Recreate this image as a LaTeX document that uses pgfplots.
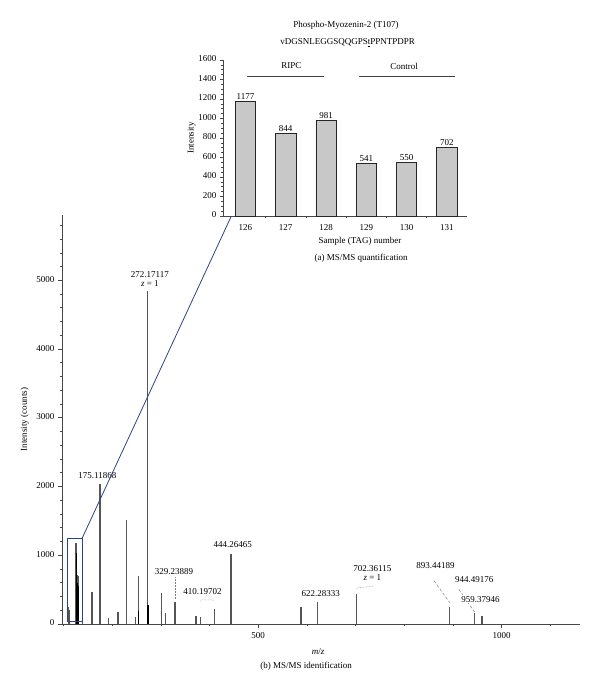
\documentclass[border=0pt]{standalone}
\usepackage{fontspec}
\setmainfont{Liberation Serif}
\usepackage{pgfplots}
\pgfplotsset{compat=1.18}

\definecolor{zoomblue}{RGB}{44,68,138}
\definecolor{peakgray}{RGB}{85,85,85}
\definecolor{barfill}{RGB}{200,200,200}
\definecolor{axisgray}{RGB}{70,70,70}

\pgfplotsset{
  /pgf/number format/1000 sep={},
  /pgf/number format/assume math mode=true,
}
\newcommand{\lab}{\fontsize{9}{10}\selectfont}

\begin{document}
\begin{tikzpicture}
\path[use as bounding box] (0pt,0pt) rectangle (600pt,693pt);

% (b) spectrum
\begin{axis}[
  at={(62pt,69pt)}, anchor=south west, scale only axis,
  width=518pt, height=409pt,
  xmin=97, xmax=1161, ymin=0, ymax=5950,
  axis x line*=bottom, axis y line*=left,
  axis line style={-, draw=axisgray, line width=0.8pt},
  tick align=outside,
  tick style={draw=axisgray, line width=0.6pt},
  major tick length=4pt, minor tick length=2.5pt,
  xtick={500,1000}, minor xtick={100,200,...,1100},
  ytick={0,1000,...,5000}, minor ytick={200,400,...,5800},
  tick label style={font=\lab},
  typeset ticklabels with strut,
  clip=false,
  ylabel={Intensity (counts)},
  every axis y label/.style={at={(axis description cs:-0.072,0.5)}, rotate=90, anchor=center, font=\lab},
]
\addplot[ycomb, draw=peakgray, line width=1.4pt, mark=none] table {
x y
110 250
113 200
126.13 1177
129.14 713
131.14 702
139 230
159 470
175.12 2030
193 90
212 180
230 1510
248 105
254 700
272.17 4850
301 445
309 155
329.24 325
372 120
382 100
410.20 213
444.26 1014
588 252
622.28 325
702.36 432
893.44 252
944.49 155
959.38 121
};
\addplot[ycomb, draw=black, line width=1.4pt, mark=none] table {
x y
127.13 1030
128.13 600
130.14 550
254.5 195
274 275
};
\draw[zoomblue, line width=0.8pt] (axis cs:108.5,33) rectangle (axis cs:138.5,1250);
\coordinate (boxtr) at (axis cs:138.5,1250);

\node[font=\lab] at (axis cs:169.6,2157) {175.11868};
\node[font=\lab, align=center, inner sep=0pt] at (axis cs:277.5,5023) {272.17117\\[-1pt]\textit{z} = 1};
\node[font=\lab] at (axis cs:327,761) {329.23889};
\draw[gray, densely dotted, line width=0.5pt] (axis cs:329.24,680) -- (axis cs:329.24,370);
\node[font=\lab] at (axis cs:385.5,466) {410.19702};
\draw[gray, densely dotted, line width=0.5pt] (axis cs:381,330) -- (axis cs:383,352) -- (axis cs:406,352) -- (axis cs:408,335);
\node[font=\lab] at (axis cs:447.8,1149) {444.26465};
\node[font=\lab] at (axis cs:628.4,447) {622.28333};
\node[font=\lab, align=center, inner sep=0pt] at (axis cs:734.6,739) {702.36115\\[-1pt]\textit{z} = 1};
\draw[gray, densely dotted, line width=0.5pt] (axis cs:702,505) -- (axis cs:705,530) -- (axis cs:722,540) -- (axis cs:735,553);
\node[font=\lab] at (axis cs:864,848) {893.44189};
\draw[gray, densely dashed, line width=0.5pt] (axis cs:861,630) -- (axis cs:893.4,310);
\draw[gray, densely dashed, line width=0.5pt] (axis cs:912,505) -- (axis cs:944.5,175);
\node[font=\lab] at (axis cs:944,640) {944.49176};
\node[font=\lab, fill=white, inner sep=1pt] at (axis cs:956.7,359) {959.37946};
\end{axis}

% (a) inset
\begin{axis}[
  at={(223.3pt,477pt)}, anchor=south west, scale only axis,
  width=243.7pt, height=156pt,
  xmin=125.45, xmax=131.5, ymin=0, ymax=1600,
  axis x line*=bottom, axis y line*=left,
  axis line style={-, draw=axisgray, line width=0.8pt},
  ybar, bar width=0.5,
  tick align=outside,
  tick style={draw=axisgray, line width=0.6pt},
  major tick length=3.5pt, minor tick length=2pt,
  xtick={126,...,131}, major x tick style={draw=none},
  minor xtick={126.5,127.5,...,130.5},
  ytick={0,200,...,1600}, minor y tick num=3,
  tick label style={font=\lab},
  typeset ticklabels with strut,
  nodes near coords,
  nodes near coords style={font=\lab, inner sep=1.5pt},
  clip=false,
  ylabel={Intensity},
  every axis y label/.style={at={(axis description cs:-0.130,0.5)}, rotate=90, anchor=center, font=\lab},
]
\addplot[fill=barfill, draw=black!85, line width=0.6pt] coordinates {
  (126,1177) (127,844) (128,981) (129,541) (130,550) (131,702)
};
\draw[black!75, line width=0.7pt] (axis cs:126.05,1436) -- (axis cs:127.96,1436);
\node[font=\lab] at (axis cs:127.14,1538) {RIPC};
\draw[black!75, line width=0.7pt] (axis cs:128.83,1436) -- (axis cs:131.19,1436);
\node[font=\lab] at (axis cs:129.94,1538) {Control};
\coordinate (inso) at (axis cs:125.65,0);
\end{axis}

\draw[zoomblue, line width=0.8pt] (boxtr) -- (inso);

\node[font=\lab] at (346pt,668pt) {Phospho-Myozenin-2 (T107)};
\node[font=\lab] at (347.7pt,650pt) {vDGSNLEGGSQQGPS\underline{t}PPNTPDPR};
\node[font=\lab] at (360pt,451.3pt) {Sample (TAG) number};
\node[font=\lab] at (361pt,435pt) {(a) MS/MS quantification};
\node[font=\lab] at (318pt,41.3pt) {\textit{m}/\textit{z}};
\node[font=\lab] at (306pt,27pt) {(b) MS/MS identification};
\end{tikzpicture}
\end{document}
